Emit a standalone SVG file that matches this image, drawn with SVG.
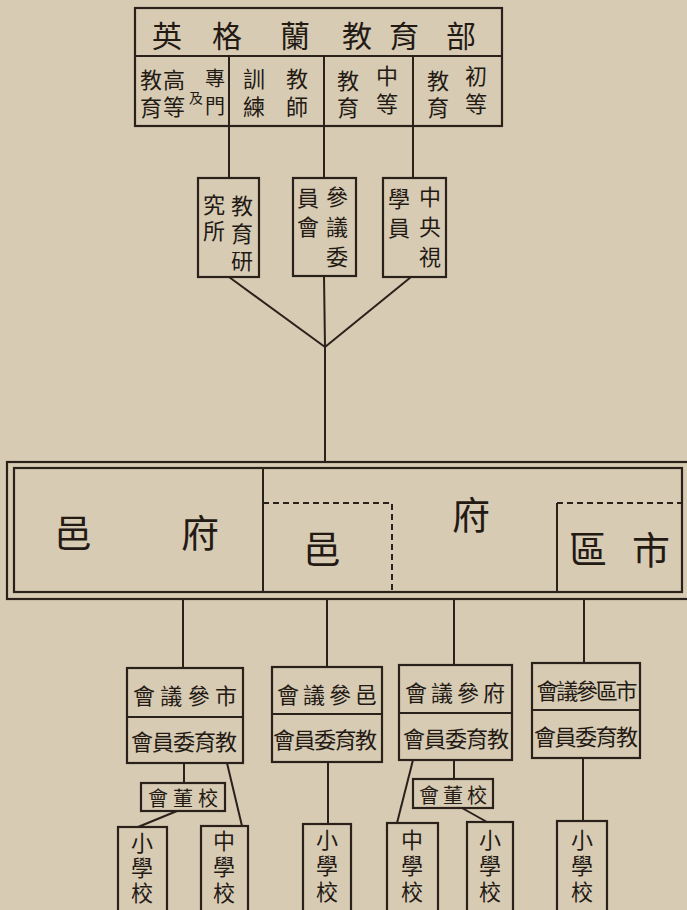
<svg xmlns="http://www.w3.org/2000/svg" width="687" height="910" viewBox="0 0 687 910">
<style>
.bx{fill:none;stroke:#2b211b;stroke-width:2.2}
.ln{fill:none;stroke:#2b211b;stroke-width:2}
.ds{fill:none;stroke:#2b211b;stroke-width:2;stroke-dasharray:6 4}
text{font-family:"Noto Sans CJK TC","Noto Sans CJK SC",sans-serif;fill:#231a14;dominant-baseline:central;text-anchor:middle}
.v{writing-mode:vertical-rl;text-anchor:start}
.t30{font-size:30px}
.t22{font-size:22px}
.t20{font-size:20px}
.t16{font-size:14px}
.t38{font-size:38px}
</style>
<rect width="687" height="910" fill="#d8cbb4"/>
<g id="ministry">
<rect class="bx" x="135" y="8" width="367" height="118"/>
<line class="ln" x1="135" y1="56" x2="502" y2="56"/>
<line class="ln" x1="229" y1="56" x2="229" y2="126"/>
<line class="ln" x1="324" y1="56" x2="324" y2="126"/>
<line class="ln" x1="413" y1="56" x2="413" y2="126"/>
<text class="t30" x="167" y="34">英</text>
<text class="t30" x="227" y="34">格</text>
<text class="t30" x="295" y="34">蘭</text>
<text class="t30" x="357" y="34">教</text>
<text class="t30" x="404" y="34">育</text>
<text class="t30" x="461" y="34">部</text>
</g>
<g id="higher-edu">
<text class="t20 v" x="215" y="68" letter-spacing="8">專門</text>
<text class="t16" x="196" y="97">及</text>
<text class="t22 v" x="174" y="69" letter-spacing="5">高等</text>
<text class="t22 v" x="151" y="69" letter-spacing="6">教育</text>
</g>
<g id="teacher-training">
<text class="t22 v" x="297" y="68" letter-spacing="6">教師</text>
<text class="t22 v" x="254" y="68" letter-spacing="6">訓練</text>
</g>
<g id="secondary-edu">
<text class="t22 v" x="387" y="65" letter-spacing="6">中等</text>
<text class="t22 v" x="348" y="70" letter-spacing="5">教育</text>
</g>
<g id="primary-edu">
<text class="t22 v" x="476" y="65" letter-spacing="6">初等</text>
<text class="t22 v" x="438" y="70" letter-spacing="5">教育</text>
</g>
<g id="research-institute">
<rect class="bx" x="198" y="178" width="61" height="99"/>
<text class="t22 v" x="242" y="195" letter-spacing="5.5">教育研</text>
<text class="t22 v" x="214" y="194" letter-spacing="4">究所</text>
</g>
<g id="advisory-council">
<rect class="bx" x="293" y="178" width="63" height="98"/>
<text class="t22 v" x="337" y="186" letter-spacing="8">參議委</text>
<text class="t22 v" x="308" y="187" letter-spacing="7">員會</text>
</g>
<g id="central-inspectors">
<rect class="bx" x="383" y="178" width="63" height="99"/>
<text class="t22 v" x="430" y="186" letter-spacing="8">中央視</text>
<text class="t22 v" x="399" y="188" letter-spacing="7">學員</text>
</g>
<g id="local-authorities">
<rect class="bx" x="7" y="462" width="690" height="137"/>
<rect class="bx" x="14" y="468" width="668" height="124"/>
<line class="ln" x1="263" y1="468" x2="263" y2="592"/>
<path class="ds" d="M263,503 H392 V592"/>
<line class="ln" x1="557" y1="592" x2="557" y2="503"/>
<line class="ds" x1="557" y1="503" x2="682" y2="503"/>
<text class="t38" x="73" y="530">邑</text>
<text class="t38" x="200" y="530">府</text>
<text class="t38" x="322" y="546">邑</text>
<text class="t38" x="471" y="512">府</text>
<text class="t38" x="588" y="546">區</text>
<text class="t38" x="651" y="547">市</text>
</g>
<g id="county-borough-council">
<rect class="bx" x="127" y="668" width="116" height="95"/>
<line class="ln" x1="127" y1="717" x2="243" y2="717"/>
<text class="t22" x="185" y="694" textLength="104" lengthAdjust="spacing">會議參市</text>
<text class="t22" x="184" y="740" textLength="106" lengthAdjust="spacing">會員委育教</text>
</g>
<g id="borough-council">
<rect class="bx" x="272" y="667" width="110" height="95"/>
<line class="ln" x1="272" y1="714" x2="382" y2="714"/>
<text class="t22" x="327" y="693" textLength="100" lengthAdjust="spacing">會議參邑</text>
<text class="t22" x="325" y="738" textLength="104" lengthAdjust="spacing">會員委育教</text>
</g>
<g id="county-council">
<rect class="bx" x="399" y="665" width="113" height="95"/>
<line class="ln" x1="399" y1="713" x2="512" y2="713"/>
<text class="t22" x="455" y="691" textLength="100" lengthAdjust="spacing">會議參府</text>
<text class="t22" x="456" y="737" textLength="106" lengthAdjust="spacing">會員委育教</text>
</g>
<g id="urban-district-council">
<rect class="bx" x="532" y="663" width="108" height="95"/>
<line class="ln" x1="532" y1="710" x2="640" y2="710"/>
<text class="t22" x="587" y="689" textLength="101" lengthAdjust="spacing">會議參區市</text>
<text class="t22" x="586" y="735" textLength="104" lengthAdjust="spacing">會員委育教</text>
</g>
<g id="school-board-1">
<rect class="bx" x="141" y="783" width="84" height="28"/>
<text class="t20" x="183" y="797" textLength="70" lengthAdjust="spacing">會董校</text>
</g>
<g id="school-board-2">
<rect class="bx" x="413" y="779" width="80" height="29"/>
<text class="t20" x="453" y="794" textLength="68" lengthAdjust="spacing">會董校</text>
</g>
<g id="primary-school-1">
<rect class="bx" x="118" y="827" width="49" height="90"/>
<text class="t22 v" x="142" y="832" letter-spacing="3">小學校</text>
</g>
<g id="secondary-school-1">
<rect class="bx" x="201" y="826" width="47" height="90"/>
<text class="t22 v" x="224" y="830" letter-spacing="4">中學校</text>
</g>
<g id="primary-school-2">
<rect class="bx" x="303" y="824" width="48" height="92"/>
<text class="t22 v" x="327" y="829" letter-spacing="4">小學校</text>
</g>
<g id="secondary-school-2">
<rect class="bx" x="387" y="823" width="51" height="93"/>
<text class="t22 v" x="412" y="829" letter-spacing="4">中學校</text>
</g>
<g id="primary-school-3">
<rect class="bx" x="467" y="822" width="46" height="94"/>
<text class="t22 v" x="490" y="829" letter-spacing="4">小學校</text>
</g>
<g id="primary-school-4">
<rect class="bx" x="557" y="821" width="50" height="95"/>
<text class="t22 v" x="582" y="829" letter-spacing="4">小學校</text>
</g>
<g id="connectors">
<line class="ln" x1="229" y1="126" x2="229" y2="178"/>
<line class="ln" x1="324" y1="126" x2="324" y2="178"/>
<line class="ln" x1="413" y1="126" x2="413" y2="178"/>
<line class="ln" x1="229" y1="277" x2="325" y2="347"/>
<line class="ln" x1="324" y1="276" x2="325" y2="347"/>
<line class="ln" x1="411" y1="277" x2="325" y2="347"/>
<line class="ln" x1="325" y1="347" x2="325" y2="462"/>
<line class="ln" x1="183" y1="599" x2="183" y2="668"/>
<line class="ln" x1="327" y1="599" x2="327" y2="667"/>
<line class="ln" x1="454" y1="599" x2="454" y2="665"/>
<line class="ln" x1="584" y1="599" x2="584" y2="663"/>
<line class="ln" x1="184" y1="763" x2="184" y2="783"/>
<line class="ln" x1="227" y1="763" x2="242" y2="826"/>
<line class="ln" x1="177" y1="811" x2="138" y2="827"/>
<line class="ln" x1="328" y1="762" x2="328" y2="824"/>
<line class="ln" x1="413" y1="760" x2="397" y2="823"/>
<line class="ln" x1="454" y1="760" x2="454" y2="779"/>
<line class="ln" x1="462" y1="808" x2="487" y2="822"/>
<line class="ln" x1="583" y1="758" x2="583" y2="821"/>
</g>
</svg>
